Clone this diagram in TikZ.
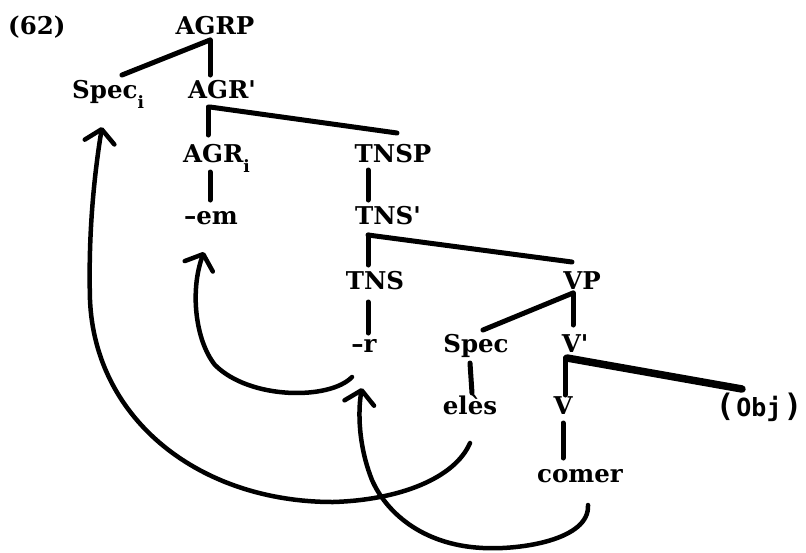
\documentclass[tikz,border=0pt]{standalone}
\usepackage{fontspec}
\newfontfamily\trfont{DejaVu Serif}
\newfontfamily\objfont{DejaVu Sans Mono}
\usetikzlibrary{arrows.meta,calc}
\newcommand{\subi}{\raisebox{-10pt}{\fontsize{17}{19}\selectfont i}}
\newcommand{\bigpar}[1]{{\fontsize{31}{31}\selectfont #1}}
\begin{document}
\begin{tikzpicture}[x=1pt,y=-1pt,
  lab/.style={anchor=base,inner sep=0pt,font=\trfont\fontsize{24.5}{28}\selectfont\bfseries},
  br/.style={line width=5pt,line cap=round},
  thickbr/.style={line width=7.5pt,line cap=round},
  mv/.style={line width=4.5pt,line cap=round,-{Straight Barb[length=13pt,width=30pt,round]}}]
\useasboundingbox (0,0) rectangle (806,552);
% nodes
\node[lab,anchor=base west] (n62) at (8,34) {(62)};
\node[lab] (agrp) at (215,34) {AGRP};
\node[lab,anchor=base west] (spec1) at (72,98) {Spec\subi};
\node[lab] (agrbar) at (222,98) {AGR'};
\node[lab,anchor=base west] (agri) at (183,162) {AGR\subi};
\node[lab] (em) at (211,224) {–em};
\node[lab] (tnsp) at (393,162) {TNSP};
\node[lab] (tnsbar) at (388,224) {TNS'};
\node[lab] (tns) at (375,289) {TNS};
\node[lab] (vp) at (582,289) {VP};
\node[lab] (r) at (364,352) {–r};
\node[lab] (spec2) at (476,352) {Spec};
\node[lab] (vbar) at (575,352) {V'};
\node[lab] (eles) at (470,414) {elès};
\node[lab] (v) at (563,414) {V};
\node[lab,font=\objfont\fontsize{25}{28}\selectfont\bfseries] (obj) at (759,416) {\bigpar{(}\hspace{2pt}Obj\hspace{2pt}\bigpar{)}};
\node[lab] (comer) at (580,482) {comer};
% branches
\draw[br] ($(agrp.base)+(-5,6)$) -- ($(spec1.base west)+(50,-23)$);
\draw[br] ($(agrp.base)+(-5,6)$) -- ($(agrbar.base)+(-12,-23)$);
\draw[br] ($(agrbar.base)+(-14,9)$) -- ($(agri.base west)+(25,-27)$);
\draw[br] ($(agrbar.base)+(-12,9)$) -- ($(tnsp.base)+(4,-29)$);
\draw[br] ($(agri.base west)+(27,10)$) -- ($(em.base)+(-1,-24)$);
\draw[br] ($(tnsp.base)+(-25,8)$) -- ($(tnsbar.base)+(-20,-24)$);
\draw[br] ($(tnsbar.base)+(-20,11)$) -- ($(tns.base)+(-7,-24)$);
\draw[br] ($(tnsbar.base)+(-20,11)$) -- ($(vp.base)+(-10,-27)$);
\draw[br] ($(tns.base)+(-7,13)$) -- ($(r.base)+(4,-19)$);
\draw[br] ($(vp.base)+(-9,4)$) -- ($(spec2.base)+(7,-22)$);
\draw[br] ($(vp.base)+(-9,4)$) -- ($(vbar.base)+(-2,-27)$);
\draw[br] ($(vbar.base)+(-10,6)$) -- ($(v.base)+(2,-19)$);
\draw[thickbr] ($(vbar.base)+(-8,6)$) -- ($(obj.base)+(-17,-27)$);
\draw[br] ($(spec2.base)+(-6,11)$) -- ($(eles.base)+(2,-21)$);
\draw[br] ($(v.base)+(0,9)$) -- ($(comer.base)+(-17,-24)$);
% movement arrows
\draw[mv] ($(eles.base)+(0,29)$) .. controls (455,478) and (400,500) .. (333,502)
  .. controls (200,502) and (95,420) .. (90,300)
  .. controls (88,230) and (95,170) .. ($(spec1.base west)+(30,29)$);
\draw[mv] ($(r.base)+(-12,25)$) .. controls (330,400) and (250,400) .. (215,365)
  .. controls (195,340) and (190,290) .. ($(em.base)+(-7,28)$);
\draw[mv] ($(comer.base)+(8,23)$) .. controls (590,540) and (520,550) .. (483,548)
  .. controls (420,545) and (385,510) .. (372,480)
  .. controls (358,445) and (358,410) .. ($(r.base)+(-2,36)$);
\end{tikzpicture}
\end{document}
